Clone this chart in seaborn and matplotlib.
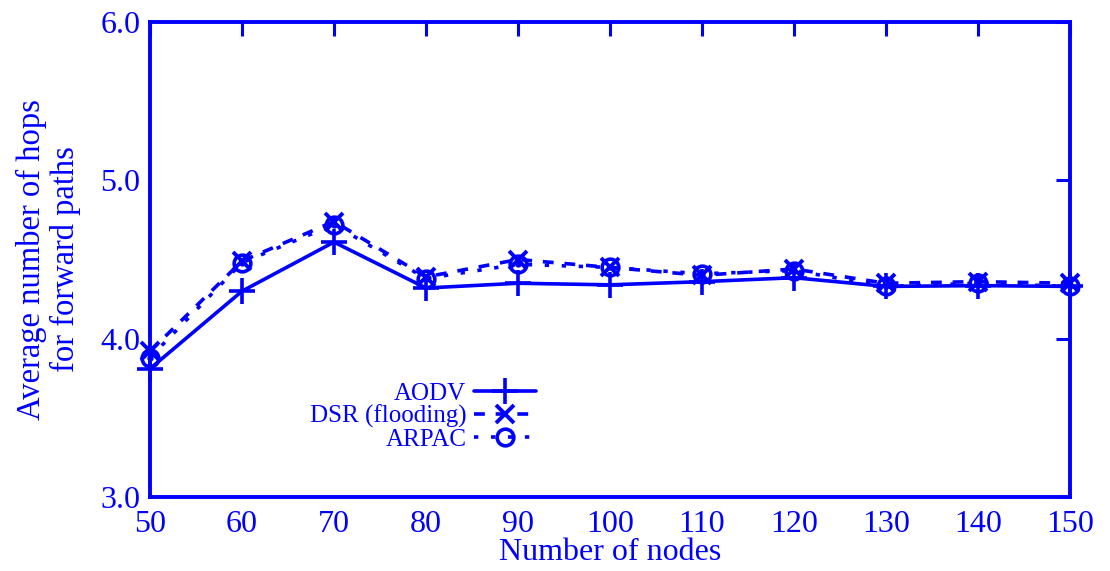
import matplotlib
matplotlib.use("Agg")
import matplotlib.pyplot as plt
import seaborn as sns
import pandas as pd

nodes = [50, 60, 70, 80, 90, 100, 110, 120, 130, 140, 150]
aodv = [3.81, 4.30, 4.61, 4.32, 4.35, 4.34, 4.36, 4.385, 4.33, 4.335, 4.33]
dsr = [3.92, 4.49, 4.74, 4.39, 4.50, 4.45, 4.40, 4.44, 4.35, 4.36, 4.35]
arpac = [3.88, 4.48, 4.72, 4.38, 4.47, 4.45, 4.41, 4.43, 4.33, 4.35, 4.33]
series_names = ["AODV", "DSR (flooding)", "ARPAC"]
xticks = [50, 60, 70, 80, 90, 100, 110, 120, 130, 140, 150]
yticks = [3.0, 4.0, 5.0, 6.0]

sns.set_theme(style="white")
plt.rcParams['font.family'] = ['Liberation Serif', 'DejaVu Serif']
blue = "#0000ff"

df = pd.DataFrame({"nodes": nodes * 3,
                   "hops": aodv + dsr + arpac,
                   "series": [series_names[0]] * len(nodes) + [series_names[1]] * len(nodes) + [series_names[2]] * len(nodes)})

fig = plt.figure(figsize=(11.1, 5.71), dpi=100)
ax = fig.add_axes([150 / 1110, 1 - 497 / 571, 920 / 1110, 475 / 571])

styles = {
    "AODV": dict(linestyle="-", marker="+", markersize=19, markeredgewidth=2.6),
    "DSR (flooding)": dict(linestyle=(0, (3, 3)), marker="x", markersize=13, markeredgewidth=2.8),
    "ARPAC": dict(linestyle=(0, (1.2, 3.5)), marker="o", markersize=12, markeredgewidth=2.6,
                  markerfacecolor="none"),
}
for name in series_names:
    sub = df[df["series"] == name]
    sns.lineplot(data=sub, x="nodes", y="hops", ax=ax, color=blue, lw=2.6,
                 label=name, markeredgecolor=blue, clip_on=False, **styles[name])
# inner dot for ARPAC markers
sub = df[df["series"] == "ARPAC"]
ax.plot(sub["nodes"], sub["hops"], ls="none", marker="o", ms=3.5, color=blue, clip_on=False)

ax.set_xlim(50, 150)
ax.set_ylim(3.0, 6.0)
ax.set_xticks(xticks)
ax.set_yticks(yticks)
ax.set_yticklabels([f"{v:.1f}" for v in yticks])
ax.tick_params(direction="in", length=10, width=2.2, colors=blue, labelsize=23,
               top=True, right=True, pad=7)
ax.tick_params(axis="x", pad=9)
for s in ax.spines.values():
    s.set_color(blue)
    s.set_linewidth(2.8)
ax.set_xlabel("Number of nodes", fontsize=23, color=blue, labelpad=0)
ax.set_ylabel("Average number of hops\nfor forward paths", fontsize=23.5, color=blue,
              labelpad=14, linespacing=1.12)

leg = ax.legend(loc="upper left", bbox_to_anchor=(0.16, 0.268), frameon=False,
                markerfirst=False, fontsize=18, handlelength=2.5, labelspacing=0.0,
                handletextpad=0.3, borderpad=0)
for t in leg.get_texts():
    t.set_color(blue)
fig.savefig("out.png", dpi=100)
